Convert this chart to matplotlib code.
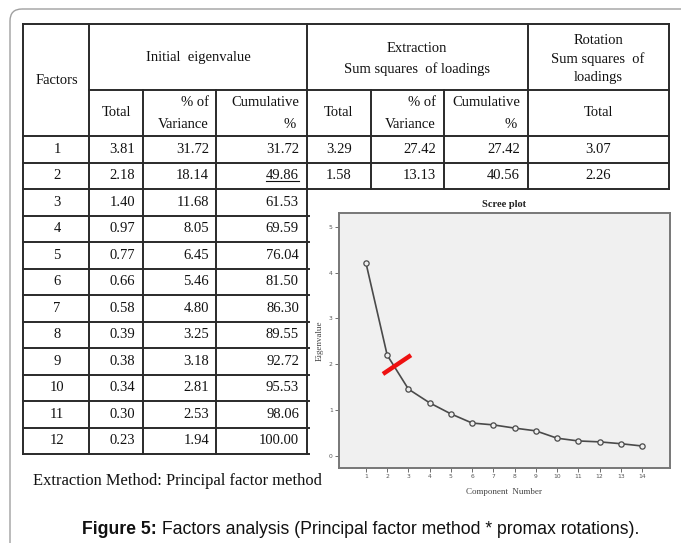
import numpy as np
import matplotlib
matplotlib.use('Agg')
import matplotlib.pyplot as plt
from matplotlib.patches import FancyBboxPatch

# ── Data ──────────────────────────────────────────────────────────────────────
factors = [str(i) for i in range(1, 13)]
init_total = ['3.81', '2.18', '1.40', '0.97', '0.77', '0.66',
              '0.58', '0.39', '0.38', '0.34', '0.30', '0.23']
init_var = ['31.72', '18.14', '11.68', '8.05', '6.45', '5.46',
            '4.80', '3.25', '3.18', '2.81', '2.53', '1.94']
init_cum = ['31.72', '49.86', '61.53', '69.59', '76.04', '81.50',
            '86.30', '89.55', '92.72', '95.53', '98.06', '100.00']
ext_total = ['3.29', '1.58']
ext_var = ['27.42', '13.13']
ext_cum = ['27.42', '40.56']
rot_total = ['3.07', '2.26']

scree_components = np.arange(1, 15)
scree_eigen = [4.21, 2.20, 1.46, 1.16, 0.92, 0.72, 0.68,
               0.61, 0.55, 0.39, 0.33, 0.31, 0.27, 0.22]
cut_x = [1.80, 3.12]
cut_y = [1.79, 2.20]

caption_bold = 'Figure 5:'
caption_rest = ' Factors analysis (Principal factor method * promax rotations).'
footnote = 'Extraction Method: Principal factor method'

# ── Figure ────────────────────────────────────────────────────────────────────
W, H = 681, 543
fig = plt.figure(figsize=(W / 100, H / 100), dpi=100)
fig.patch.set_facecolor('white')

ax = fig.add_axes([0, 0, 1, 1])
ax.set_xlim(0, W)
ax.set_ylim(H, 0)
ax.axis('off')

# outer rounded frame (open at bottom/right, clipped by the figure)
frame = FancyBboxPatch((10, 9), 720, 600, boxstyle='round,pad=0,rounding_size=12',
                       fc='none', ec='#a0a0a0', lw=1.0)
ax.add_patch(frame)

serif = 'Liberation Serif'
fs = 10.5
lc = '#2a2a2a'
lw = 1.4


def vline(x, y0, y1):
    ax.plot([x, x], [y0, y1], color=lc, lw=lw, solid_capstyle='projecting')


def hline(y, x0, x1):
    ax.plot([x0, x1], [y, y], color=lc, lw=lw, solid_capstyle='projecting')


top, sub = 24, 89.5
row_tops = [136, 162.5, 189]
row_h = (454 - 189) / 10
for i in range(10):
    row_tops.append(189 + row_h * (i + 1))
bottom = row_tops[-1]

# grid
for x in (23, 89, 307):
    vline(x, top, bottom)
for x in (143, 216):
    vline(x, sub, bottom)
for x in (371, 444):
    vline(x, sub, 189)
for x in (528, 669):
    vline(x, top, 189)
hline(top, 23, 669)
hline(sub, 89, 669)
for y in row_tops[:3]:
    hline(y, 23, 669)
for y in row_tops[3:]:
    hline(y, 23, 309)


def t(x, y, s, ha='center', size=fs):
    return ax.text(x, y, s, ha=ha, va='center', fontsize=size, family=serif, color='#111')


# header text
t(57, 80, 'Factors')
t(198, 57, 'Initial  eigenvalue')
t(417, 49, 'Extraction')
t(417, 69, 'Sum squares  of loadings')
t(598, 40, 'Rotation')
t(598, 59, 'Sum squares  of')
t(598, 78, 'loadings')
for cx in (116, 339, 598):
    t(cx, 113, 'Total')
for rx in (209, 436):
    t(rx, 103, '% of', ha='right')
    t(rx, 124, 'Variance', ha='right')
for rx in (299, 520):
    t(rx, 103, 'Cumulative', ha='right')
    t(rx - 3, 124, '%', ha='right')

# body
cum_texts = []
for i in range(12):
    yc = (row_tops[i] + row_tops[i + 1]) / 2
    t(57, yc, factors[i])
    t(135, yc, init_total[i], ha='right')
    t(209, yc, init_var[i], ha='right')
    cum_texts.append(t(299, yc, init_cum[i], ha='right'))
    if i < 2:
        t(339, yc, ext_total[i])
        t(436, yc, ext_var[i], ha='right')
        t(520, yc, ext_cum[i], ha='right')
        t(598, yc, rot_total[i])

t(33, 481, footnote, ha='left', size=11.9)

# caption, centred as a whole
cap_fs = 12.7
cap1 = ax.text(0, 529, caption_bold, ha='left', va='center', fontsize=cap_fs,
               family='Liberation Sans', weight='bold', color='#111')
cap2 = ax.text(0, 529, caption_rest, ha='left', va='center', fontsize=cap_fs,
               family='Liberation Sans', color='#111')
fig.canvas.draw()
r = fig.canvas.get_renderer()
w1 = cap1.get_window_extent(r).width
w2 = cap2.get_window_extent(r).width
x_start = 361 - (w1 + w2) / 2
cap1.set_x(x_start)
cap2.set_x(x_start + w1)

# underline 49.86
bb = cum_texts[1].get_window_extent(r)
(x0, y0), (x1, _) = ax.transData.inverted().transform([(bb.x0, bb.y0), (bb.x1, bb.y0)])
ax.plot([x0, x1], [y0 - 1, y0 - 1], color='#111', lw=0.8)

# ── Scree plot inset ──────────────────────────────────────────────────────────
L, T, R, B = 339, 213, 670, 468
sax = fig.add_axes([L / W, 1 - B / H, (R - L) / W, (B - T) / H])
sax.set_facecolor('#f0f0f0')
sax.plot(scree_components, scree_eigen, color='#4a4a4a', lw=1.2,
         marker='o', ms=3.8, mfc='#eeeeee', mec='#4a4a4a', mew=0.9)
sax.plot(cut_x, cut_y, color='#ee1111', lw=3.2, solid_capstyle='butt')
sax.set_xlim(-0.27, 15.32)
sax.set_ylim(-0.26, 5.3)
sax.set_xticks(scree_components)
sax.set_yticks(range(0, 6))
sax.tick_params(labelsize=4.3, length=3, width=0.6, color='#555', labelcolor='#555', pad=1.5)
for s in sax.spines.values():
    s.set_color('#777')
    s.set_linewidth(1.4)
sax.set_xlabel('Component  Number', fontsize=6.5, family=serif, color='#444', labelpad=6)
sax.set_ylabel('Eigenvalue', fontsize=6.5, family=serif, color='#444', labelpad=4)
sax.set_title('Scree plot', fontsize=7.5, family=serif, weight='bold', color='#222', pad=4)

fig.savefig('out.png', dpi=100)
